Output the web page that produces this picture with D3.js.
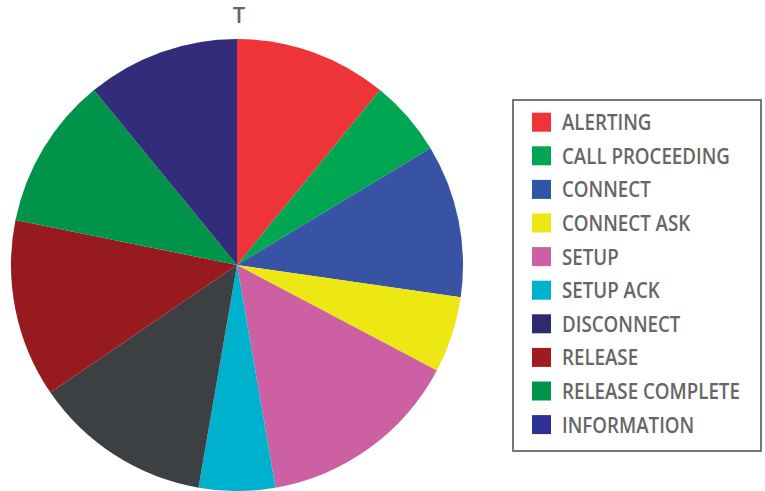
<!DOCTYPE html>
<html><head><meta charset="utf-8">
<script src="https://cdn.jsdelivr.net/npm/d3@7"></script>
<style>body{margin:0;background:#fff}svg{display:block}</style>
</head><body>
<svg id="c" width="765" height="491"></svg>
<script>
const title = "T";
const sliceValues = [6, 3, 6, 3, 8, 3, 7, 7, 6, 6];
const sliceColors = ["#ee3339", "#00a651", "#3953a4", "#ede714", "#cd5fa3", "#00b1cd", "#3d4043", "#971b1e", "#00934a", "#332c7b"];
const legendLabels = ["ALERTING", "CALL PROCEEDING", "CONNECT", "CONNECT ASK", "SETUP", "SETUP ACK", "DISCONNECT", "RELEASE", "RELEASE COMPLETE", "INFORMATION"];
const legendColors = ["#ee3339", "#00a651", "#2e56a6", "#ede714", "#cd5fa3", "#00b1cd", "#2e2a6e", "#a01b21", "#00934a", "#2e3192"];

const svg = d3.select("#c");
const font = "'Open Sans',sans-serif";
const cx = 237, cy = 265, r = 226;

svg.append("text").attr("x", 239).attr("y", 23).attr("text-anchor", "middle")
  .attr("font-family", font).attr("font-weight", 600).attr("font-size", 22).attr("fill", "#666").text(title);

const pie = d3.pie().sort(null).value(d => d);
const arc = d3.arc().innerRadius(0).outerRadius(r);
const g = svg.append("g").attr("transform", `translate(${cx},${cy})`);
g.selectAll("path").data(pie(sliceValues)).join("path")
  .attr("d", arc).attr("fill", (d, i) => sliceColors[i]);

const lg = svg.append("g");
lg.append("rect").attr("x", 513).attr("y", 100).attr("width", 248).attr("height", 351)
  .attr("fill", "#fff").attr("stroke", "#777").attr("stroke-width", 2);
const y = d3.scaleBand().domain(d3.range(legendLabels.length)).range([105.4, 105.4 + 33.6 * 10]);
const rows = lg.selectAll("g.row").data(legendLabels).join("g").attr("class", "row")
  .attr("transform", (d, i) => `translate(0,${y(i) + y.bandwidth() / 2})`);
rows.append("rect").attr("x", 532).attr("y", -9.5).attr("width", 19).attr("height", 19)
  .attr("fill", (d, i) => legendColors[i]);
const texts = rows.append("text").attr("x", 0).attr("y", 0).attr("dy", "0.36em")
  .attr("font-family", font).attr("font-weight", 600).attr("font-size", 22).attr("fill", "#666").text(d => d);
// uniform horizontal condensing so that the longest label matches the reference width
let maxW = 0;
texts.each(function () { maxW = Math.max(maxW, this.getComputedTextLength()); });
const sx = 178 / maxW;
texts.attr("transform", `translate(562,0) scale(${sx},1)`);
</script>
</body></html>
